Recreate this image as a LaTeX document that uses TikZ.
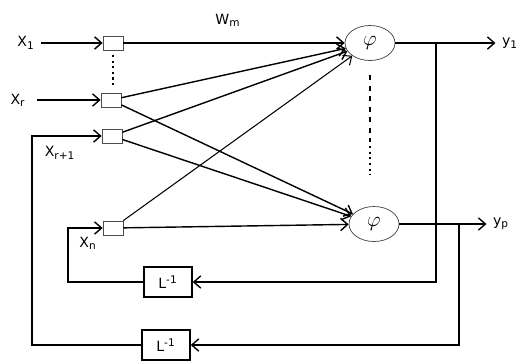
\documentclass[tikz,border=0pt]{standalone}
\usepackage{fontspec}
\setmainfont{DejaVu Sans}
\usetikzlibrary{shapes.geometric,arrows.meta}

\begin{document}
\begin{tikzpicture}[x=0.02cm,y=-0.02cm,font=\footnotesize,thick,
  >={Straight Barb[length=4pt,width=7pt]},
  wbox/.style={draw=black!70,thin,minimum width=0.4cm,minimum height=0.28cm,inner sep=0pt},
  lbox/.style={draw,minimum width=0.96cm,minimum height=0.6cm,inner sep=0pt},
  neuron/.style={draw=black!75,thin,ellipse,font=\large,minimum width=1cm,minimum height=0.7cm,inner sep=0pt}]
  \useasboundingbox (0,0) rectangle (526,363);
  % weight boxes
  \node[wbox] (b1) at (113,43) {};
  \node[wbox] (br) at (111,100) {};
  \node[wbox] (br1) at (112,136) {};
  \node[wbox] (bn) at (113,228) {};
  % neurons and delays
  \node[neuron] (phi1) at (370,43) {$\varphi$};
  \node[neuron] (phip) at (374,224) {$\varphi$};
  \node[lbox] (L1) at (168,282) {L\textsuperscript{-1}};
  \node[lbox] (L2) at (166,345) {L\textsuperscript{-1}};
  % labels
  \node (x1) at (26,43) {X\textsubscript{1}};
  \node (xr) at (18,100) {X\textsubscript{r}};
  \node (xr1) at (60,153) {X\textsubscript{r+1}};
  \node (xn) at (88,243) {X\textsubscript{n}};
  \node (wm) at (228,20) {W\textsubscript{m}};
  \node (y1) at (510,43) {y\textsubscript{1}};
  \node (yp) at (501,224) {y\textsubscript{p}};
  \coordinate (t1) at (436,43);
  \coordinate (t2) at (459,224);
  \coordinate (lk1) at (68,282);
  \coordinate (lk2) at (32,345);
  % inputs
  \draw[->] (x1) -- (b1);
  \draw[->,shorten <=3pt] (xr) -- (br);
  \draw[->] (L2) -- (lk2) |- (br1);
  \draw[->] (L1) -- (lk1) |- (bn);
  \draw[dotted,very thick] (113,55) -- (113,87);
  % weights
  \draw[->] (b1) -- (phi1);
  \draw[->] (br) -- (phi1);
  \draw[->] (br1) -- (phi1);
  \draw[->,semithick] (bn) -- (phi1);
  \draw[->] (br) -- (phip);
  \draw[->] (br1) -- (phip);
  \draw[->] (bn) -- (phip);
  \draw[dashed,very thick] (370,75) -- (370,142);
  \draw[dotted,very thick] (370,146) -- (370,175);
  % outputs and feedback
  \draw[->] (phi1) -- (y1);
  \draw[->] (phip) -- (yp);
  \draw[->] (t1) |- (L1);
  \draw[->] (t2) |- (L2);
\end{tikzpicture}
\end{document}
